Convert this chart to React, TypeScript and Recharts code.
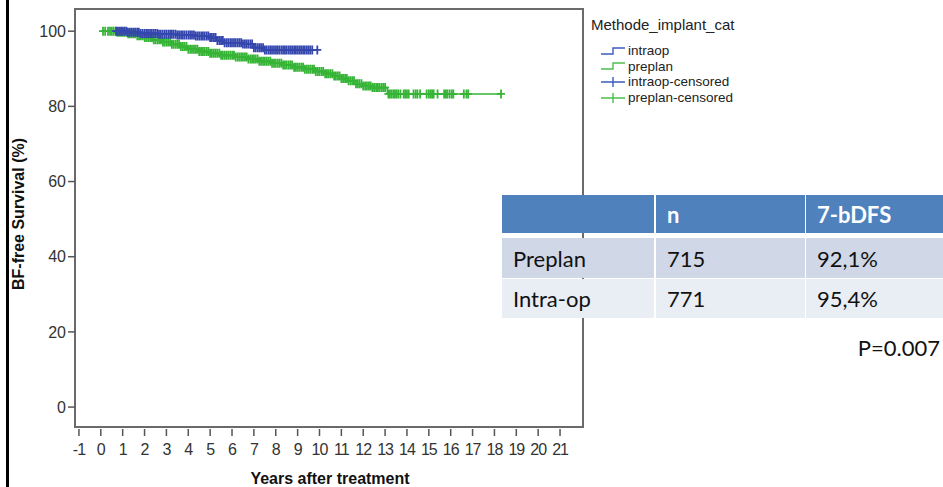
import { ComposedChart, Line, Scatter, XAxis, YAxis, ReferenceArea, Legend } from 'recharts';

// Kaplan-Meier steps: [years, survival %]
const intraopSteps: [number, number][] = [
  [0.6, 100], [1.2, 99.7], [1.8, 99.4], [2.6, 99.2], [3.5, 99.0], [4.3, 98.7],
  [5.0, 98.3], [5.3, 97.5], [5.6, 96.9], [6.5, 96.6], [7.0, 95.6], [7.5, 95.0], [9.9, 95.0],
];
const preplanSteps: [number, number][] = [
  [0.1, 100], [0.7, 99.7], [1.2, 99.3], [1.6, 98.8], [2.0, 98.3], [2.4, 97.7], [2.8, 97.1],
  [3.2, 96.5], [3.6, 95.9], [4.0, 95.2], [4.5, 94.6], [5.0, 94.1], [5.5, 93.6], [6.1, 93.1],
  [6.7, 92.6], [7.2, 92.0], [7.8, 91.5], [8.3, 91.0], [8.8, 90.4], [9.3, 89.9], [9.8, 89.3],
  [10.2, 88.7], [10.6, 88.1], [11.0, 87.4], [11.3, 86.8], [11.6, 86.0], [12.0, 85.4],
  [12.4, 85.0], [13.1, 83.3], [18.3, 83.3],
];

// censoring times (years)
const intraopCensored = [
  0.7, 0.78, 0.86, 0.93,
  1.01, 1.09, 1.17, 1.24, 1.33, 1.41, 1.49, 1.57, 1.66, 1.74, 1.82, 1.91,
  2.0, 2.08, 2.16, 2.25, 2.33, 2.41, 2.49, 2.58, 2.66, 2.74, 2.83, 2.92,
  3.0, 3.09, 3.17, 3.25, 3.33, 3.42, 3.5, 3.58, 3.67, 3.75, 3.83, 3.92,
  4.01, 4.09, 4.17, 4.26, 4.34, 4.42, 4.5, 4.59, 4.67, 4.75, 4.84, 4.92,
  5.0, 5.08, 5.17, 5.25, 5.33, 5.42, 5.5, 5.58, 5.66, 5.75, 5.83, 5.92,
  6.0, 6.09, 6.17, 6.26, 6.34, 6.42, 6.5, 6.59, 6.67, 6.75, 6.84, 6.92,
  7.0, 7.08, 7.17, 7.25, 7.33, 7.42, 7.5, 7.58, 7.67, 7.75, 7.83, 7.92,
  8.01, 8.09, 8.17, 8.26, 8.34, 8.42, 8.5, 8.59, 8.67, 8.75, 8.84, 8.92,
  9.0, 9.08, 9.16, 9.25, 9.33, 9.42, 9.5, 9.58, 9.67, 9.9,
];
const preplanCensored = [
  0.1, 0.2, 0.33, 0.42, 0.5, 0.58, 0.67, 0.75, 0.83, 0.92,
  1.0, 1.08, 1.17, 1.25, 1.33, 1.42, 1.5, 1.58, 1.67, 1.75, 1.83, 1.92,
  2.01, 2.09, 2.17, 2.26, 2.34, 2.42, 2.5, 2.59, 2.67, 2.75, 2.84, 2.92,
  3.0, 3.08, 3.17, 3.25, 3.33, 3.42, 3.5, 3.58, 3.66, 3.75, 3.83, 3.92,
  4.0, 4.09, 4.17, 4.26, 4.34, 4.42, 4.5, 4.59, 4.67, 4.75, 4.84, 4.92,
  5.0, 5.08, 5.17, 5.25, 5.33, 5.42, 5.5, 5.58, 5.67, 5.75, 5.83, 5.92,
  6.01, 6.09, 6.17, 6.26, 6.34, 6.42, 6.5, 6.59, 6.67, 6.75, 6.84, 6.92,
  7.0, 7.08, 7.17, 7.25, 7.33, 7.42, 7.5, 7.58, 7.66, 7.75, 7.83, 7.92,
  8.0, 8.09, 8.17, 8.26, 8.34, 8.42, 8.5, 8.59, 8.67, 8.75, 8.84, 8.92,
  9.0, 9.08, 9.17, 9.25, 9.33, 9.42, 9.5, 9.58, 9.67, 9.75, 9.83, 9.92,
  10.0, 10.09, 10.17, 10.26, 10.34, 10.42, 10.5, 10.59, 10.67, 10.75, 10.84, 10.92,
  11.0, 11.08, 11.17, 11.25, 11.33, 11.42, 11.5, 11.58, 11.67, 11.75, 11.83, 11.92,
  12.0, 12.09, 12.17, 12.26, 12.34, 12.42, 12.5, 12.59, 12.67, 12.75, 12.84, 12.92,
  13.0, 13.15, 13.22, 13.3, 13.38, 13.45, 13.52, 13.6, 13.7, 13.85, 13.92, 14.0, 14.08,
  14.3, 14.4, 14.48, 14.6, 14.9, 15.0, 15.08, 15.15, 15.22, 15.4, 15.7, 15.78, 15.85,
  15.95, 16.05, 16.12, 16.6, 16.72, 16.8, 18.3,
];

const xTicks = [-1, 0, 1, 2, 3, 4, 5, 6, 7, 8, 9, 10, 11, 12, 13, 14, 15, 16, 17, 18, 19, 20, 21];
const yTicks = [0, 20, 40, 60, 80, 100];

const legendTitle = 'Methode_implant_cat';
const legendItems = [
  { name: 'intraop', color: '#3d5bbd', kind: 'step' },
  { name: 'preplan', color: '#4cc04c', kind: 'step' },
  { name: 'intraop-censored', color: '#3d5bbd', kind: 'cross' },
  { name: 'preplan-censored', color: '#4cc04c', kind: 'cross' },
];

const tableHeader = ['', 'n', '7-bDFS'];
const tableRows = [
  ['Preplan', '715', '92,1%'],
  ['Intra-op', '771', '95,4%'],
];
const pValue = 'P=0.007';

const BLUE = '#3547ad';
const GREEN = '#36b436';
const FONT = '"Liberation Sans", Arial, sans-serif';
const TABLE_FONT = 'Lato, "Open Sans", sans-serif';

const toPoints = (steps: [number, number][]) => steps.map(([t, s]) => ({ t, s }));

// survival value of the step curve at time t (where the censor mark sits)
const survivalAt = (steps: [number, number][], t: number) => {
  let s = steps[0][1];
  for (const [ti, si] of steps) {
    if (ti <= t + 1e-9) s = si;
  }
  return s;
};

const censorPoints = (steps: [number, number][], times: number[]) =>
  times.map((t) => ({ t, s: survivalAt(steps, t) }));

const makeCross = (color: string) => (props: any) => {
  const { cx, cy } = props;
  return (
    <path
      d={`M${cx - 4},${cy}H${cx + 4}M${cx},${cy - 4.5}V${cy + 4.5}`}
      stroke={color}
      strokeWidth={1.8}
      fill="none"
    />
  );
};

const XTick = (props: any) => {
  const { x, y, payload } = props;
  return (
    <g>
      <line x1={x} x2={x} y1={y + 2} y2={y + 9} stroke="#555" strokeWidth={1.5} />
      <text x={x} y={y + 28} textAnchor="middle" fontSize={16} letterSpacing={-1} fill="#333" fontFamily={FONT}>
        {payload.value}
      </text>
    </g>
  );
};

const LegendBox = () => (
  <div style={{ fontFamily: FONT, color: '#222' }}>
    <div style={{ fontSize: 15, lineHeight: '18px', marginBottom: 9 }}>{legendTitle}</div>
    {legendItems.map((item) => (
      <div key={item.name} style={{ display: 'flex', alignItems: 'center', height: 15.6, marginLeft: 9 }}>
        <svg width={26} height={12} style={{ marginRight: 2 }}>
          {item.kind === 'step' ? (
            <path d="M1,9H13V3H25" stroke={item.color} strokeWidth={1.4} fill="none" />
          ) : (
            <path d="M1,6H25M13,1V11" stroke={item.color} strokeWidth={1.4} fill="none" />
          )}
        </svg>
        <span style={{ fontSize: 13.5, lineHeight: '15px' }}>{item.name}</span>
      </div>
    ))}
  </div>
);

const colLeft = [502, 656, 806];
const colWidth = [152, 149, 137];
const rowTop = [195, 238, 279];
const rowHeight = [38, 40, 39];
const rowColor = ['#4f81bd', '#d0d8e8', '#e9edf4'];

export default function App() {
  const rows = [tableHeader, ...tableRows];
  return (
    <div style={{ position: 'absolute', left: 0, top: 0, width: 943, height: 487, background: '#fff', overflow: 'hidden' }}>
      <div style={{ position: 'absolute', left: 6, top: 0, width: 3, height: 487, background: '#000' }} />
      <ComposedChart
        width={943}
        height={487}
        margin={{ top: 9, right: 360, bottom: 0, left: 15 }}
        style={{ fontFamily: FONT }}
      >
        <XAxis
          type="number"
          dataKey="t"
          domain={[-1.18, 22.05]}
          ticks={xTicks}
          interval={0}
          allowDataOverflow
          axisLine={false}
          tickLine={false}
          tickSize={0}
          tickMargin={0}
          height={60}
          tick={<XTick />}
        />
        <YAxis
          type="number"
          dataKey="s"
          domain={[-5.3, 105.9]}
          ticks={yTicks}
          interval={0}
          allowDataOverflow
          axisLine={false}
          tickLine={{ stroke: '#555', strokeWidth: 1.5 }}
          tickSize={7}
          tickMargin={2}
          width={60}
          tick={{ fontSize: 16, fill: '#333', fontFamily: FONT }}
        />
        <ReferenceArea
          x1={-1.18}
          x2={22.05}
          y1={-5.3}
          y2={105.9}
          fill="none"
          fillOpacity={0}
          stroke="#6a6a6a"
          strokeWidth={2}
          ifOverflow="visible"
        />
        <Line
          data={toPoints(preplanSteps)}
          dataKey="s"
          type="stepAfter"
          stroke={GREEN}
          strokeWidth={1.5}
          dot={false}
          isAnimationActive={false}
          legendType="none"
        />
        <Scatter
          data={censorPoints(preplanSteps, preplanCensored)}
          dataKey="s"
          shape={makeCross(GREEN)}
          isAnimationActive={false}
          legendType="none"
        />
        <Line
          data={toPoints(intraopSteps)}
          dataKey="s"
          type="stepAfter"
          stroke={BLUE}
          strokeWidth={1.5}
          dot={false}
          isAnimationActive={false}
          legendType="none"
        />
        <Scatter
          data={censorPoints(intraopSteps, intraopCensored)}
          dataKey="s"
          shape={makeCross(BLUE)}
          isAnimationActive={false}
          legendType="none"
        />
        <Legend
          layout="vertical"
          align="center"
          verticalAlign="middle"
          content={() => <LegendBox />}
          wrapperStyle={{ position: 'absolute', left: 591, top: 16, width: 200 }}
        />
        <text
          x={24}
          y={214}
          transform="rotate(-90 24 214)"
          textAnchor="middle"
          fontSize={16}
          fontWeight="bold"
          fill="#111"
          fontFamily={FONT}
        >
          BF-free Survival (%)
        </text>
        <text x={330} y={484} textAnchor="middle" fontSize={16} fontWeight="bold" fill="#111" fontFamily={FONT}>
          Years after treatment
        </text>
      </ComposedChart>

      {rows.map((row, r) =>
        row.map((cell, c) => (
          <div
            key={`${r}-${c}`}
            style={{
              position: 'absolute',
              left: colLeft[c],
              top: rowTop[r],
              width: colWidth[c],
              height: rowHeight[r],
              background: rowColor[r],
              display: 'flex',
              alignItems: 'center',
              paddingLeft: 11,
              boxSizing: 'border-box',
              fontFamily: TABLE_FONT,
              fontSize: 22,
              fontWeight: r === 0 ? 'bold' : 'normal',
              color: r === 0 ? '#fff' : '#111',
            }}
          >
            {cell}
          </div>
        ))
      )}
      <div
        style={{
          position: 'absolute',
          right: 3,
          top: 335,
          fontFamily: TABLE_FONT,
          fontSize: 22,
          lineHeight: '26px',
          color: '#111',
        }}
      >
        {pValue}
      </div>
    </div>
  );
}
